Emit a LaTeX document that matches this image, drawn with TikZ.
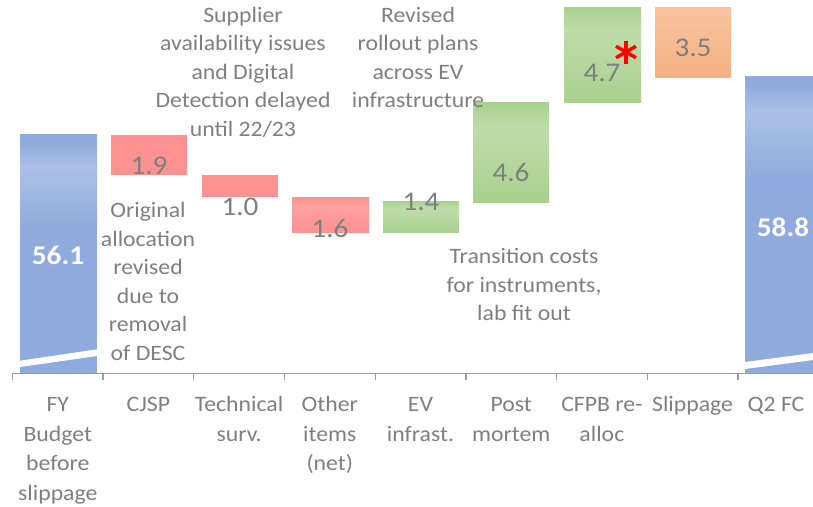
\documentclass[tikz,border=0pt]{standalone}
\usepackage{fontspec}
\setmainfont{Carlito}[FakeStretch=1.08]
\usetikzlibrary{calc}
\definecolor{barblue}{HTML}{8FAADC}
\definecolor{lightblue}{HTML}{ABC0E5}
\definecolor{barred}{HTML}{FF9191}
\definecolor{lightred}{HTML}{FFA0A0}
\definecolor{bargreen}{HTML}{A9D18E}
\definecolor{lightgreen}{HTML}{BEDCAA}
\definecolor{barorange}{HTML}{F4B183}
\definecolor{lightorange}{HTML}{F8C4A0}
\definecolor{txtgray}{HTML}{7F7F7F}
\definecolor{axisgray}{HTML}{9A9A9A}
% gradient bar: x1, ytop, x2, ybottom (pixel, y down), base colour, light colour
\newcommand\gradbar[6]{%
  \shade[top color=#5,bottom color=#6] (#1,-#2) rectangle (#3,{-(#2+(#4-#2)*0.25)});
  \shade[top color=#6,bottom color=#5] (#1,{-(#2+(#4-#2)*0.25)-0.3}) rectangle (#3,-#4);
}
\begin{document}
\begin{tikzpicture}[x=1pt,y=1pt,
  vallabel/.style={inner sep=0pt,text=txtgray,font=\fontsize{27}{32}\selectfont},
  totlabel/.style={inner sep=0pt,text=white,font=\fontsize{27}{32}\selectfont\bfseries},
  note/.style={inner sep=0pt,anchor=north,align=center,text=txtgray,font=\fontsize{22}{28.5}\selectfont},
  catlabel/.style={inner sep=0pt,anchor=north,align=center,text=txtgray,font=\fontsize{22}{29.5}\selectfont},
  axisline/.style={draw=axisgray,line width=1.3pt}]
\useasboundingbox (0,0) rectangle (813,-506);

% ---- total bars (blue) ----
\fill[barblue] (20,-134) rectangle (97,-373);
\shade[top color=barblue,bottom color=lightblue] (20,-142) rectangle (97,-168);
\shade[top color=lightblue,bottom color=barblue] (20,-167.7) rectangle (97,-230);
\fill[white] (20,-360.7) -- (97,-349.3) -- (97,-356) -- (20,-367) -- cycle;

\fill[barblue] (745,-76) rectangle (813,-373);
\shade[top color=barblue,bottom color=lightblue] (745,-84) rectangle (813,-112);
\shade[top color=lightblue,bottom color=barblue] (745,-111.7) rectangle (813,-180);
\fill[white] (745,-362) -- (813,-353) -- (813,-360) -- (745,-369) -- cycle;

% ---- decreases (red) ----
\fill[barred] (111,-135) rectangle (187,-175);
\fill[barred] (202,-175) rectangle (278,-197);
\gradbar{292}{197}{369}{232}{barred}{lightred}

% ---- increases (green) ----
\gradbar{383}{201}{459}{232}{bargreen}{lightgreen}
\gradbar{473}{102}{549}{202}{bargreen}{lightgreen}
\gradbar{564}{7}{641}{102}{bargreen}{lightgreen}

% ---- slippage (orange) ----
\shade[top color=lightorange,bottom color=barorange] (655,-7) rectangle (731,-77);

% ---- axis ----
\coordinate (axL) at (12,-373.5);
\coordinate (axR) at (813,-373.5);
\draw[axisline] (axL) -- (axR);
\foreach \k in {0,...,8}{
  \draw[axisline] ({12.4+90.7*\k},-373.5) -- ({12.4+90.7*\k},-380);
}

% ---- value labels ----
\node[totlabel] (v561) at (58,-255) {56.1};
\node[totlabel] (v588) at (783,-227) {58.8};
\node[vallabel] (v19) at (149,-166) {1.9};
\node[vallabel] (v10) at (240,-207) {1.0};
\node[vallabel] (v16) at (330,-228) {1.6};
\node[vallabel] (v14) at (421,-202) {1.4};
\node[vallabel] (v46) at (511,-172) {4.6};
\node[vallabel] (v47) at (602,-73) {4.7};
\node[vallabel] (v35) at (693,-48) {3.5};

% ---- red asterisk ----
\coordinate (star) at (626,-52);
\foreach \a in {90,30,-30}{
  \draw[red,line width=3.4pt] ($(star)+(\a:11.5)$) -- ($(star)+(\a+180:11.5)$);
}

% ---- annotations ----
\node[note] (nSupp) at (243,-2.3) {\strut Supplier\\availability issues\\and Digital\\Detection delayed\\until 22/23};
\node[note] (nRev) at (418,-2.3) {\strut Revised\\rollout plans\\across EV\\infrastructure};
\node[note] (nOrig) at (148,-197.4) {\strut Original\\allocation\\revised\\due to\\removal\\of DESC};
\node[note] (nTrans) at (524,-243.4) {\strut Transition costs\\for instruments,\\lab fit out};

% ---- category labels ----
\node[catlabel] (c1) at (57.8,-390.7) {\strut FY\\Budget\\before\\slippage};
\node[catlabel] (c2) at (148.4,-390.7) {\strut CJSP};
\node[catlabel] (c3) at (239.1,-390.7) {\strut Technical\\surv.};
\node[catlabel] (c4) at (329.8,-390.7) {\strut Other\\items\\(net)};
\node[catlabel] (c5) at (420.5,-390.7) {\strut EV\\infrast.};
\node[catlabel] (c6) at (511.2,-390.7) {\strut Post\\mortem};
\node[catlabel] (c7) at (601.9,-390.7) {\strut CFPB re-\\alloc};
\node[catlabel] (c8) at (692.6,-390.7) {\strut Slippage};
\node[catlabel] (c9) at (776,-390.7) {\strut Q2 FC};
\end{tikzpicture}
\end{document}
